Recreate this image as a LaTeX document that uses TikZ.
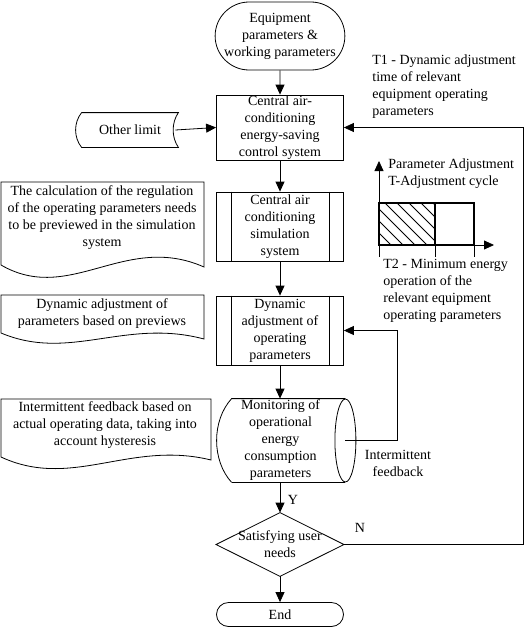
\documentclass[tikz,border=0pt]{standalone}
\usepackage{fontspec}
\setmainfont{Liberation Serif}
\usetikzlibrary{arrows.meta,shapes.misc}

\begin{document}
\begin{tikzpicture}[x=1pt, y=-1pt, font=\fontsize{14}{17}\selectfont, line width=0.8pt,
    box/.style={draw, minimum width=127pt, minimum height=#1, inner sep=0pt, align=center},
    term/.style={draw, rounded rectangle, minimum width=127pt, minimum height=#1, inner sep=0pt, align=center},
    plain/.style={inner sep=0pt, align=center},
    note/.style={inner sep=0pt, align=left, anchor=west},
    arr/.style={-{Triangle[length=10pt,width=9pt]}}]
    \useasboundingbox (0,0) rectangle (526,627);
    \node[term=68pt] (start) at (280,36) {Equipment\\parameters \&\\working parameters};
    \node[box=65pt] (control) at (280,127.5) {Central air-\\conditioning\\energy-saving\\control system};
    \node[plain, minimum width=96pt, minimum height=34pt] (other) at (130,130) {Other limit};
    \draw (other.north west) -- (other.north east) .. controls +(-7,10) and +(-7,-10) .. (other.south east) -- (other.south west) .. controls +(-8,-10) and +(-8,10) .. (other.north west);
    \node[box=69pt] (sim) at (280,226.5) {Central air\\conditioning\\simulation\\system};
    \node[box=69pt] (dyn) at (280,330.5) {Dynamic\\adjustment of\\operating\\parameters};
    \foreach \n in {sim,dyn} {
        \draw ([xshift=15pt]\n.north west) -- ([xshift=15pt]\n.south west);
        \draw ([xshift=-15pt]\n.north east) -- ([xshift=-15pt]\n.south east);
    }
    \node[plain, minimum width=129pt, minimum height=83pt] (mon) at (280.5,440.5) {Monitoring of\\operational\\energy\\consumption\\parameters};
    \draw ([xshift=16pt]mon.south west) .. controls +(-20,-22) and +(-20,22) .. ([xshift=16pt]mon.north west) -- (mon.north east);
    \draw ([xshift=16pt]mon.south west) -- (mon.south east);
    \draw (mon.east) ellipse [x radius=10.5pt, y radius=41.5pt];
    \node[plain, minimum width=127pt, minimum height=63pt] (dec) at (280,544.5) {Satisfying user\\needs};
    \draw (dec.north) -- (dec.east) -- (dec.south) -- (dec.west) -- cycle;
    \node[term=24pt] (stop) at (280,614.5) {End};
    \draw[arr] (start) -- (control);
    \draw[arr] (control) -- (sim);
    \draw[arr] (sim) -- (dyn);
    \draw[arr] (dyn.south) -- (dyn.south |- mon.north);
    \draw[arr] (dec.north |- mon.south) -- (dec.north);
    \draw[arr] (dec) -- (stop);
    \draw[arr] ([xshift=-3pt]other.east) -- (control.west);
    \draw[arr] (dec.east) -- ++(179,0) |- (control.east);
    \draw[arr] (mon.east) -- ++(52,0) |- (dyn.east);
    \node[plain] (ylab) at (293,500) {Y};
    \node[plain] (nlab) at (360,528) {N};
    \node[plain] (fbnote) at (398,463) {Intermittent\\feedback};
    \node[note] (t1note) at (372,86.5) {T1 - Dynamic adjustment\\time of relevant\\equipment operating\\parameters};
    \draw (1,182) -- (204,182) -- (204,267) .. controls (125,232) and (70,305) .. (1,265) -- cycle;
    \node[plain] (doc1) at (102,218) {The calculation of the regulation\\of the operating parameters needs\\to be previewed in the simulation\\system};
    \draw (1,295) -- (204,295) -- (204,339) .. controls (125,318) and (70,362) .. (1,333) -- cycle;
    \node[plain] (doc2) at (102,313.5) {Dynamic adjustment of\\parameters based on previews};
    \draw (1,399) -- (211,399) -- (211,460) .. controls (130,440) and (72,490) .. (1,457) -- cycle;
    \node[plain] (doc3) at (105,425) {Intermittent feedback based on\\actual operating data, taking into\\account hysteresis};
    \draw[arr] (379,245) -- (379,161);
    \draw[arr] (379,245) -- (494,245);
    \begin{scope}
        \clip (379,203) rectangle (435,245);
        \foreach \i in {0,...,8} \draw (337+\i*12,203) -- ++(42,42);
    \end{scope}
    \draw[line width=1.6pt] (379,203) rectangle (474,245);
    \draw[line width=1.6pt] (435,203) -- (435,245);
    \foreach \x in {379,435,474} \draw (\x,245) -- (\x,257);
    \node[note] (padj) at (388,173.5) {Parameter Adjustment\\T-Adjustment cycle};
    \node[note] (t2note) at (383,291) {T2 - Minimum energy\\operation of the\\relevant equipment\\operating parameters};
\end{tikzpicture}
\end{document}
